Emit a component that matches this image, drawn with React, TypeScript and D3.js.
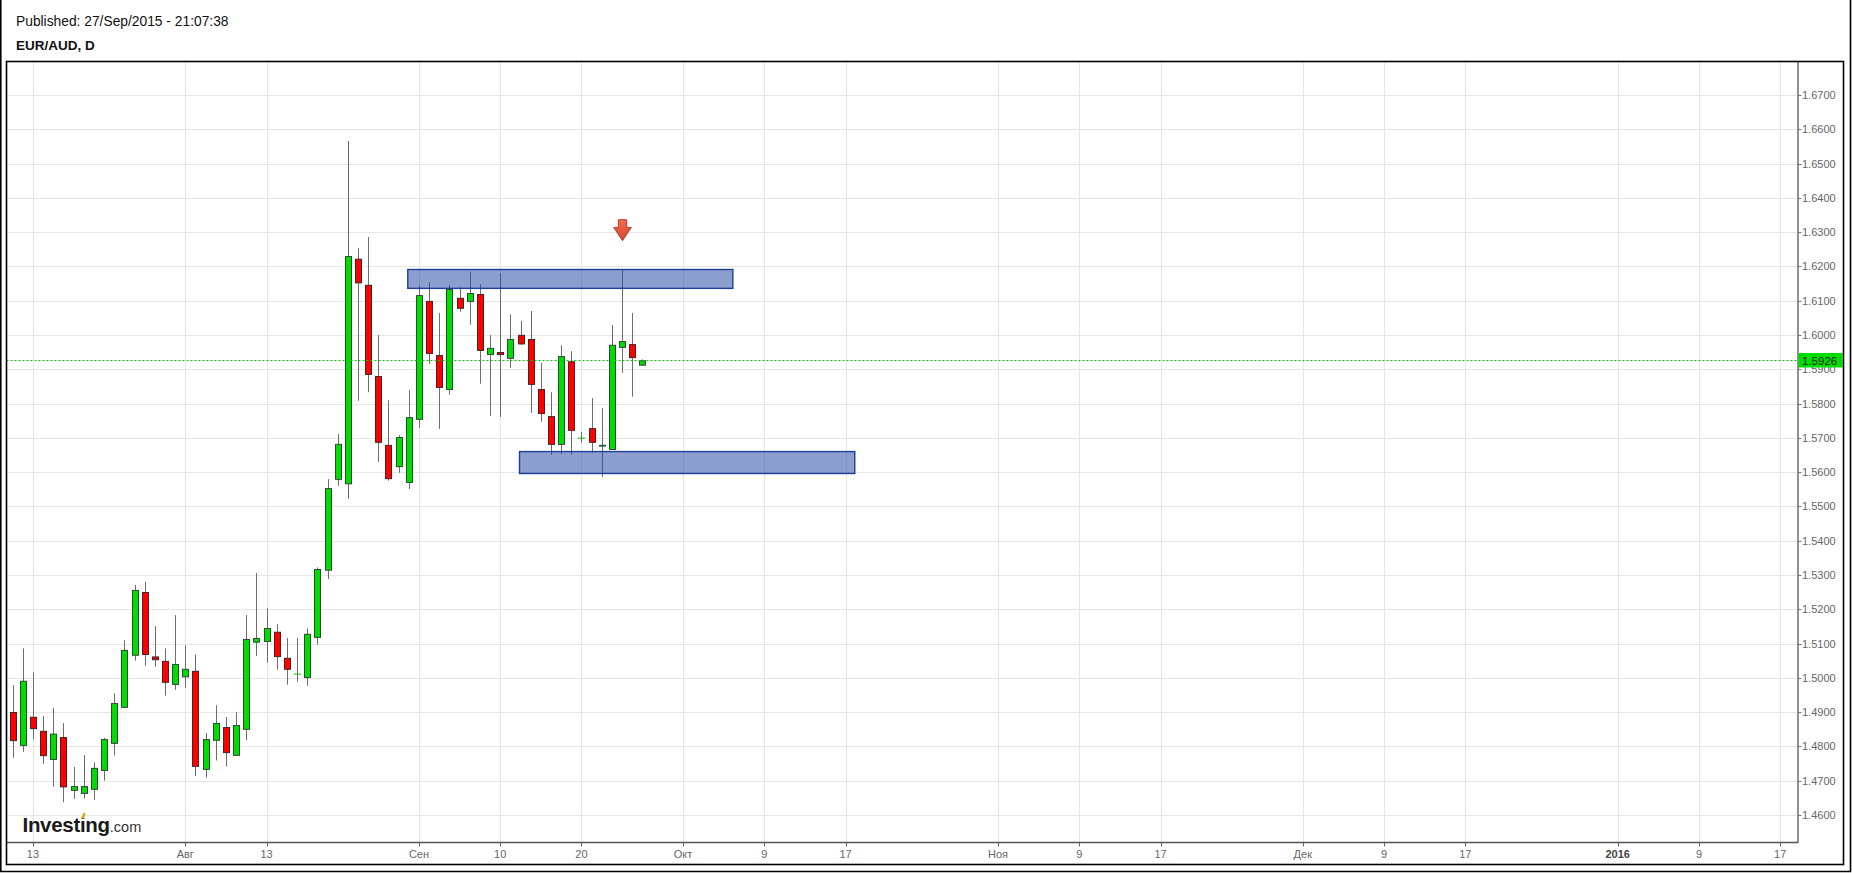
import { useEffect, useRef } from "react";
import * as d3 from "d3";

// EUR/AUD daily candles (oldest first)
const opens = [
  1.4899, 1.4803, 1.4885, 1.4844, 1.4762, 1.4826, 1.4672, 1.4663, 1.4675, 1.473,
  1.4809, 1.4914, 1.5066, 1.5249, 1.5061, 1.5048, 1.4981, 1.5003, 1.5019, 1.4733,
  1.4818, 1.4855, 1.4774, 1.485, 1.5104, 1.5106, 1.5133, 1.5057, 1.501, 1.5001,
  1.5118, 1.5314, 1.5579, 1.5566, 1.6221, 1.6145, 1.5879, 1.5678, 1.5616, 1.557,
  1.5754, 1.6098, 1.594, 1.5841, 1.6107, 1.6098, 1.6118, 1.5943, 1.5949, 1.5932,
  1.5999, 1.5987, 1.5841, 1.5762, 1.5681, 1.5922, 1.5698, 1.5727, 1.5677, 1.5666,
  1.5964, 1.5972, 1.5912,
];
const highs = [
  1.4979, 1.5086, 1.5016, 1.4889, 1.4912, 1.4868, 1.474, 1.4775, 1.4754, 1.4825,
  1.4955, 1.511, 1.5271, 1.528, 1.5151, 1.5086, 1.5183, 1.5095, 1.5068, 1.4839,
  1.492, 1.4886, 1.49, 1.5183, 1.5306, 1.5203, 1.5157, 1.5116, 1.5116, 1.5144,
  1.5322, 1.558, 1.5711, 1.6566, 1.6254, 1.6286, 1.6, 1.581, 1.5708, 1.5839,
  1.6143, 1.6154, 1.6064, 1.6145, 1.6139, 1.6185, 1.6148, 1.6, 1.6181, 1.606,
  1.6041, 1.607, 1.5918, 1.5833, 1.597, 1.5953, 1.5717, 1.5816, 1.5787, 1.6029,
  1.6189, 1.6064, 1.5929,
];
const lows = [
  1.4767, 1.4784, 1.4821, 1.4749, 1.4682, 1.4637, 1.4647, 1.4648, 1.4644, 1.47,
  1.4773, 1.4912, 1.505, 1.5035, 1.5032, 1.4948, 1.4965, 1.4971, 1.4714, 1.4709,
  1.4759, 1.4741, 1.4772, 1.4819, 1.5064, 1.5044, 1.5024, 1.498, 1.4989, 1.4977,
  1.5097, 1.5288, 1.556, 1.5522, 1.5808, 1.5833, 1.563, 1.5575, 1.5598, 1.5551,
  1.5729, 1.5916, 1.5726, 1.5826, 1.6068, 1.603, 1.5858, 1.5764, 1.5761, 1.5904,
  1.5971, 1.5773, 1.5747, 1.5651, 1.5653, 1.5651, 1.5686, 1.5657, 1.5586, 1.5665,
  1.589, 1.582, 1.591,
];
const closes = [
  1.4817, 1.499, 1.4852, 1.4773, 1.4836, 1.4682, 1.4683, 1.4683, 1.4736, 1.482,
  1.4925, 1.508, 1.5255, 1.5068, 1.5053, 1.4987, 1.5039, 1.5025, 1.4742, 1.482,
  1.4867, 1.4782, 1.4861, 1.5112, 1.5115, 1.5144, 1.5062, 1.5025, 1.5011, 1.5127,
  1.5316, 1.5552, 1.5681, 1.6229, 1.6152, 1.5885, 1.5687, 1.5581, 1.5701, 1.5759,
  1.6115, 1.5946, 1.5847, 1.6133, 1.6078, 1.6121, 1.5955, 1.5961, 1.5943, 1.5987,
  1.5974, 1.5856, 1.5771, 1.5681, 1.5937, 1.5722, 1.5699, 1.5687, 1.5677, 1.597,
  1.5981, 1.5934, 1.5925,
];

// x axis: slot = trading-day index (future part runs on calendar days)
const tickSlots = [2, 17, 25, 40, 48, 56, 66, 74, 82, 97, 105, 113, 127, 135, 143, 158, 166, 174];
const tickLabels = ["13", "Авг", "13", "Сен", "10", "20", "Окт", "9", "17", "Ноя", "9", "17", "Дек", "9", "17", "2016", "9", "17"];

const priceTicks = [
  1.46, 1.47, 1.48, 1.49, 1.5, 1.51, 1.52, 1.53, 1.54, 1.55, 1.56,
  1.57, 1.58, 1.59, 1.6, 1.61, 1.62, 1.63, 1.64, 1.65, 1.66, 1.67,
];

// drawn zones (supply / demand)
const zoneFrom = [38.9, 49.9];
const zoneTo = [70.9, 82.9];
const zoneHigh = [1.6191, 1.566];
const zoneLow = [1.6136, 1.5596];

const signalSlot = 60;
const signalPrice = 1.6275;
const lastPrice = 1.5926;

const FONT = "'Liberation Sans', Arial, sans-serif";

export default function App() {
  const svgRef = useRef<SVGSVGElement>(null);

  useEffect(() => {
    const svg = d3.select(svgRef.current);
    svg.selectAll("*").remove();

    const width = 1852;
    const height = 873;
    const plot = { left: 6.5, right: 1798, top: 62, bottom: 842.5 };

    const x = d3.scaleLinear().domain([-0.6, 175.75]).range([plot.left, plot.right]);
    const y = d3.scaleLinear().domain([1.46, 1.67]).range([815, 95]);

    svg.append("rect").attr("width", width).attr("height", height).attr("fill", "#fff");

    // --- header ---
    svg
      .append("text")
      .attr("x", 16)
      .attr("y", 25.5)
      .attr("font-family", FONT)
      .attr("font-size", 13.8)
      .attr("fill", "#111")
      .text("Published: 27/Sep/2015 - 21:07:38");

    svg
      .append("text")
      .attr("x", 16)
      .attr("y", 50)
      .attr("font-family", FONT)
      .attr("font-size", 13.5)
      .attr("font-weight", "bold")
      .attr("fill", "#111")
      .text("EUR/AUD, D");

    // --- grid ---
    const grid = svg.append("g").attr("stroke", "#e6e6e6").attr("stroke-width", 1);
    grid
      .selectAll("line.h")
      .data(priceTicks)
      .enter()
      .append("line")
      .attr("x1", plot.left)
      .attr("x2", plot.right)
      .attr("y1", (d) => Math.round(y(d)) + 0.5)
      .attr("y2", (d) => Math.round(y(d)) + 0.5);
    grid
      .selectAll("line.v")
      .data(tickSlots)
      .enter()
      .append("line")
      .attr("x1", (d) => Math.round(x(d)) + 0.5)
      .attr("x2", (d) => Math.round(x(d)) + 0.5)
      .attr("y1", plot.top)
      .attr("y2", plot.bottom);

    // --- axes ---
    svg
      .append("line")
      .attr("x1", plot.left)
      .attr("x2", plot.right)
      .attr("y1", plot.bottom)
      .attr("y2", plot.bottom)
      .attr("stroke", "#555")
      .attr("stroke-width", 1.3);
    svg
      .append("line")
      .attr("x1", plot.right)
      .attr("x2", plot.right)
      .attr("y1", plot.top)
      .attr("y2", plot.bottom)
      .attr("stroke", "#555")
      .attr("stroke-width", 1.3);

    const xt = svg.append("g");
    xt.selectAll("line")
      .data(tickSlots)
      .enter()
      .append("line")
      .attr("x1", (d) => Math.round(x(d)) + 0.5)
      .attr("x2", (d) => Math.round(x(d)) + 0.5)
      .attr("y1", plot.bottom)
      .attr("y2", plot.bottom + 4)
      .attr("stroke", "#666");
    xt.selectAll("text")
      .data(tickSlots)
      .enter()
      .append("text")
      .attr("x", (d) => x(d))
      .attr("y", 857.5)
      .attr("text-anchor", "middle")
      .attr("font-family", FONT)
      .attr("font-size", 11)
      .attr("font-weight", (_d, i) => (tickLabels[i] === "2016" ? "bold" : "normal"))
      .attr("fill", (_d, i) => (tickLabels[i] === "2016" ? "#444" : "#666"))
      .text((_d, i) => tickLabels[i]);

    const yt = svg.append("g");
    yt.selectAll("line")
      .data(priceTicks)
      .enter()
      .append("line")
      .attr("x1", plot.right)
      .attr("x2", plot.right + 3.5)
      .attr("y1", (d) => Math.round(y(d)) + 0.5)
      .attr("y2", (d) => Math.round(y(d)) + 0.5)
      .attr("stroke", "#777");
    yt.selectAll("text")
      .data(priceTicks)
      .enter()
      .append("text")
      .attr("x", plot.right + 4)
      .attr("y", (d) => y(d))
      .attr("dy", "0.36em")
      .attr("font-family", FONT)
      .attr("font-size", 11)
      .attr("fill", "#666")
      .text((d) => d.toFixed(4));

    // --- candles ---
    const idx = d3.range(opens.length);
    const bodyW = 6;
    const candles = svg.append("g");

    candles
      .selectAll("line.wick")
      .data(idx)
      .enter()
      .append("line")
      .attr("x1", (i) => Math.round(x(i)) + 0.5)
      .attr("x2", (i) => Math.round(x(i)) + 0.5)
      .attr("y1", (i) => y(highs[i]))
      .attr("y2", (i) => y(lows[i]))
      .attr("stroke", "#6e6e6e")
      .attr("stroke-width", 1);

    const bodies = idx.filter((i) => Math.abs(y(opens[i]) - y(closes[i])) >= 1);
    const dojis = idx.filter((i) => Math.abs(y(opens[i]) - y(closes[i])) < 1);

    candles
      .selectAll("rect.body")
      .data(bodies)
      .enter()
      .append("rect")
      .attr("x", (i) => Math.round(x(i)) + 0.5 - bodyW / 2)
      .attr("y", (i) => y(Math.max(opens[i], closes[i])))
      .attr("width", bodyW)
      .attr("height", (i) => Math.abs(y(opens[i]) - y(closes[i])))
      .attr("fill", (i) => (closes[i] >= opens[i] ? "#00dd00" : "#ff0000"))
      .attr("stroke", (i) => (closes[i] >= opens[i] ? "#2c4a34" : "#4a2222"))
      .attr("stroke-width", 1);

    candles
      .selectAll("line.doji")
      .data(dojis)
      .enter()
      .append("line")
      .attr("x1", (i) => Math.round(x(i)) + 0.5 - bodyW / 2 - 0.5)
      .attr("x2", (i) => Math.round(x(i)) + 0.5 + bodyW / 2 + 0.5)
      .attr("y1", (i) => y(closes[i]))
      .attr("y2", (i) => y(closes[i]))
      .attr("stroke", (i) => (closes[i] > opens[i] ? "#00cc00" : "#1f5a3a"))
      .attr("stroke-width", (i) => (closes[i] > opens[i] ? 1 : 1.8));

    // --- zones ---
    svg
      .append("g")
      .selectAll("rect")
      .data(zoneFrom)
      .enter()
      .append("rect")
      .attr("x", (d) => x(d))
      .attr("y", (_d, i) => y(zoneHigh[i]))
      .attr("width", (d, i) => x(zoneTo[i]) - x(d))
      .attr("height", (_d, i) => y(zoneLow[i]) - y(zoneHigh[i]))
      .attr("fill", "rgba(26,61,156,0.5)")
      .attr("stroke", "#1f3f99")
      .attr("stroke-width", 1.4);

    // --- last price line + label ---
    const ly = Math.round(y(lastPrice)) + 0.5;
    svg
      .append("line")
      .attr("x1", plot.left)
      .attr("x2", plot.right)
      .attr("y1", ly)
      .attr("y2", ly)
      .attr("stroke", "#00c800")
      .attr("stroke-dasharray", "2,2");
    svg
      .append("rect")
      .attr("x", plot.right + 0.5)
      .attr("y", ly - 7.5)
      .attr("width", 44)
      .attr("height", 14.5)
      .attr("fill", "#00dd00");
    svg
      .append("text")
      .attr("x", plot.right + 4)
      .attr("y", ly)
      .attr("dy", "0.36em")
      .attr("font-family", FONT)
      .attr("font-size", 11.5)
      .attr("fill", "#222")
      .text(lastPrice.toFixed(4));

    // --- sell arrow ---
    const ax = Math.round(x(signalSlot)) + 0.5;
    const ay = y(signalPrice);
    const grad = svg.append("defs").append("linearGradient").attr("id", "arrowGrad").attr("x1", 0).attr("x2", 0).attr("y1", 0).attr("y2", 1);
    grad.append("stop").attr("offset", "0%").attr("stop-color", "#ef6a50");
    grad.append("stop").attr("offset", "100%").attr("stop-color", "#d8452e");
    svg
      .append("path")
      .attr(
        "d",
        `M${ax - 4.2},${ay - 21} H${ax + 4.2} V${ay - 13.3} H${ax + 8.8} L${ax},${ay} L${ax - 8.8},${ay - 13.3} H${ax - 4.2} Z`
      )
      .attr("fill", "url(#arrowGrad)")
      .attr("stroke", "#b23d2b")
      .attr("stroke-width", 1);

    // --- logo ---
    const logo = svg
      .append("text")
      .attr("x", 22.5)
      .attr("y", 831.5)
      .attr("font-family", FONT)
      .attr("fill", "#1a1a1a");
    logo.append("tspan").attr("font-size", 20.5).attr("font-weight", "bold").attr("letter-spacing", -0.3).text("Investing");
    logo.append("tspan").attr("font-size", 14.5).attr("fill", "#333").text(".com");

    // orange dot over the second "i"
    let dotX = 84;
    const node = logo.node() as SVGTextElement | null;
    if (node && node.getNumberOfChars() > 7) {
      const p = node.getStartPositionOfChar(6);
      const e = node.getEndPositionOfChar(6);
      dotX = (p.x + e.x) / 2;
    }
    svg
      .append("rect")
      .attr("x", dotX - 2.8)
      .attr("y", 812.5)
      .attr("width", 6)
      .attr("height", 5.5)
      .attr("fill", "#fff");
    svg
      .append("path")
      .attr("d", `M${dotX - 1.6},818.5 L${dotX + 0.6},813 L${dotX + 3},813 L${dotX + 1.6},818.5 Z`)
      .attr("fill", "#f5a01a");

    // --- frames ---
    svg
      .append("rect")
      .attr("x", 6.5)
      .attr("y", 61.5)
      .attr("width", 1837)
      .attr("height", 803)
      .attr("fill", "none")
      .attr("stroke", "#000")
      .attr("stroke-width", 1.6);
    svg
      .append("path")
      .attr("d", "M0.8,0 V871.5 H1850.5 V0")
      .attr("fill", "none")
      .attr("stroke", "#000")
      .attr("stroke-width", 1.6);
  }, []);

  return (
    <div style={{ position: "fixed", left: 0, top: 0 }}>
      <svg ref={svgRef} width={1852} height={873} style={{ display: "block" }} />
    </div>
  );
}
